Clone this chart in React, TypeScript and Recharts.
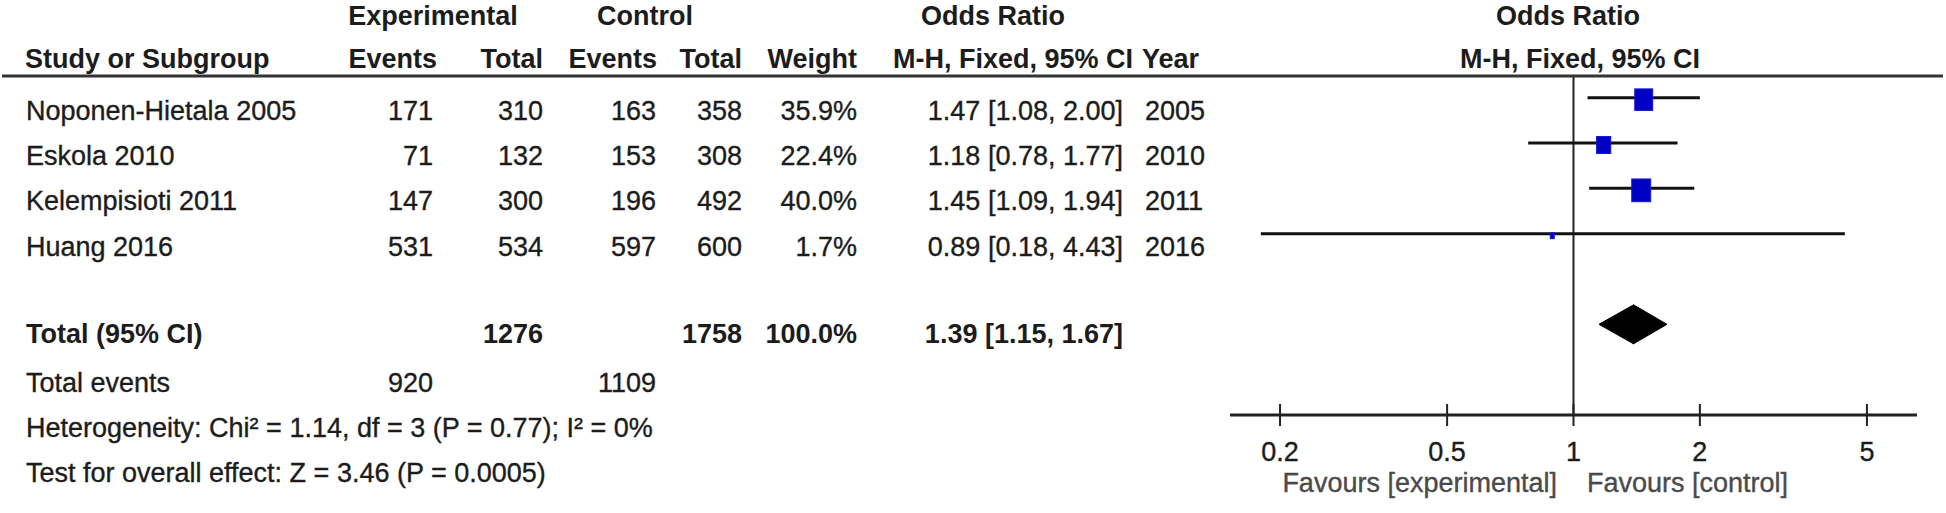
import React from "react";
import {
  ComposedChart,
  XAxis,
  YAxis,
  Scatter,
  ReferenceLine,
  ReferenceArea,
} from "recharts";

// ---- data ----
const studies = ["Noponen-Hietala 2005", "Eskola 2010", "Kelempisioti 2011", "Huang 2016"];
const expEvents = [171, 71, 147, 531];
const expTotal = [310, 132, 300, 534];
const ctrlEvents = [163, 153, 196, 597];
const ctrlTotal = [358, 308, 492, 600];
const weights = [35.9, 22.4, 40.0, 1.7];
const oddsRatio = [1.47, 1.18, 1.45, 0.89];
const ciLow = [1.08, 0.78, 1.09, 0.18];
const ciHigh = [2.0, 1.77, 1.94, 4.43];
const years = [2005, 2010, 2011, 2016];

const pooled = [1.39, 1.15, 1.67]; // OR, lower, upper
const pooledTotals = [1276, 1758];
const pooledEvents = [920, 1109];
const pooledWeight = 100.0;
const heterogeneity = "Heterogeneity: Chi\u00b2 = 1.14, df = 3 (P = 0.77); I\u00b2 = 0%";
const overallTest = "Test for overall effect: Z = 3.46 (P = 0.0005)";
const xTicks = [0.2, 0.5, 1, 2, 5];

const TOTAL_ROW = 5;

const rows = studies.map((name, i) => ({
  name,
  row: i,
  or: oddsRatio[i],
  lo: ciLow[i],
  hi: ciHigh[i],
  weight: weights[i],
}));

// ---- layout ----
const W = 1946;
const H = 513;
const FONT = "'Liberation Sans', Arial, sans-serif";
const INK = "#1c1c1c";
const COL = {
  name: 26,
  expEv: 433,
  expTot: 543,
  ctlEv: 656,
  ctlTot: 742,
  weight: 857,
  ci: 1123,
  year: 1145,
};
const rowBase = (i: number) => 119.8 + 45.33 * i;
const fmt = (v: number) => v.toFixed(2);
const ciText = (o: number, l: number, h: number) => `${fmt(o)} [${fmt(l)}, ${fmt(h)}]`;

function T({
  x,
  y,
  anchor = "start",
  bold = false,
  fill = INK,
  children,
}: {
  x: number;
  y: number;
  anchor?: "start" | "middle" | "end";
  bold?: boolean;
  fill?: string;
  children: React.ReactNode;
}) {
  return (
    <text
      x={x}
      y={y}
      textAnchor={anchor}
      fontFamily={FONT}
      fontSize={27}
      fontWeight={bold ? 700 : 400}
      fill={fill}
      stroke={bold ? "none" : fill}
      strokeWidth={0.35}
    >
      {children}
    </text>
  );
}

function WeightedSquare(props: any) {
  const { cx, cy, payload } = props;
  const s = Math.sqrt(payload.weight);
  const w = Math.max(4, 3 * s);
  const h = Math.max(6, 3.6 * s);
  return (
    <rect
      x={cx - w / 2}
      y={cy - h / 2 + 2}
      width={w}
      height={h}
      fill="#0000c4"
      stroke="#1a1ad0"
      strokeWidth={1}
    />
  );
}

function LeftHalf(props: any) {
  const { x, y, width, height } = props;
  return (
    <polygon
      points={`${x},${y + height / 2} ${x + width},${y} ${x + width},${y + height}`}
      fill="#000"
      stroke="#000"
      strokeWidth={1}
      strokeLinejoin="round"
    />
  );
}

function RightHalf(props: any) {
  const { x, y, width, height } = props;
  return (
    <polygon
      points={`${x},${y} ${x + width},${y + height / 2} ${x},${y + height}`}
      fill="#000"
      stroke="#000"
      strokeWidth={1}
      strokeLinejoin="round"
    />
  );
}

function AxisTick(props: any) {
  const { x, y, payload } = props;
  return (
    <g>
      <line x1={x} x2={x} y1={y - 11} y2={y + 11} stroke="#222" strokeWidth={2} />
      <text
        x={x}
        y={y + 46}
        textAnchor="middle"
        fontFamily={FONT}
        fontSize={27}
        fill={INK}
        stroke={INK}
        strokeWidth={0.35}
      >
        {String(payload.value)}
      </text>
    </g>
  );
}

function Table() {
  return (
    <svg
      width={W}
      height={H}
      style={{ position: "absolute", left: 0, top: 0, pointerEvents: "none" }}
    >
      {/* header */}
      <T x={433} y={25} anchor="middle" bold>Experimental</T>
      <T x={645} y={25} anchor="middle" bold>Control</T>
      <T x={993} y={25} anchor="middle" bold>Odds Ratio</T>
      <T x={1568} y={25} anchor="middle" bold>Odds Ratio</T>
      <T x={25} y={68} bold>Study or Subgroup</T>
      <T x={437} y={68} anchor="end" bold>Events</T>
      <T x={COL.expTot} y={68} anchor="end" bold>Total</T>
      <T x={657} y={68} anchor="end" bold>Events</T>
      <T x={COL.ctlTot} y={68} anchor="end" bold>Total</T>
      <T x={COL.weight} y={68} anchor="end" bold>Weight</T>
      <T x={893} y={68} bold>M-H, Fixed, 95% CI</T>
      <T x={1142} y={68} bold>Year</T>
      <T x={1580} y={68} anchor="middle" bold>M-H, Fixed, 95% CI</T>
      <line x1={2} x2={1943} y1={76} y2={76} stroke="#333" strokeWidth={3} />

      {/* study rows */}
      {studies.map((s, i) => (
        <g key={s}>
          <T x={COL.name} y={rowBase(i)}>{s}</T>
          <T x={COL.expEv} y={rowBase(i)} anchor="end">{expEvents[i]}</T>
          <T x={COL.expTot} y={rowBase(i)} anchor="end">{expTotal[i]}</T>
          <T x={COL.ctlEv} y={rowBase(i)} anchor="end">{ctrlEvents[i]}</T>
          <T x={COL.ctlTot} y={rowBase(i)} anchor="end">{ctrlTotal[i]}</T>
          <T x={COL.weight} y={rowBase(i)} anchor="end">{weights[i].toFixed(1)}%</T>
          <T x={COL.ci} y={rowBase(i)} anchor="end">{ciText(oddsRatio[i], ciLow[i], ciHigh[i])}</T>
          <T x={COL.year} y={rowBase(i)}>{years[i]}</T>
        </g>
      ))}

      {/* pooled */}
      <T x={COL.name} y={343} bold>Total (95% CI)</T>
      <T x={COL.expTot} y={343} anchor="end" bold>{pooledTotals[0]}</T>
      <T x={COL.ctlTot} y={343} anchor="end" bold>{pooledTotals[1]}</T>
      <T x={COL.weight} y={343} anchor="end" bold>{pooledWeight.toFixed(1)}%</T>
      <T x={COL.ci} y={343} anchor="end" bold>{ciText(pooled[0], pooled[1], pooled[2])}</T>
      <T x={COL.name} y={391.5}>Total events</T>
      <T x={COL.expEv} y={391.5} anchor="end">{pooledEvents[0]}</T>
      <T x={COL.ctlEv} y={391.5} anchor="end">{pooledEvents[1]}</T>
      <T x={COL.name} y={437}>{heterogeneity}</T>
      <T x={COL.name} y={482}>{overallTest}</T>

      {/* favours labels */}
      <T x={1557} y={492} anchor="end" fill="#4a4a4a">Favours [experimental]</T>
      <T x={1587} y={492} fill="#4a4a4a">Favours [control]</T>
    </svg>
  );
}

export default function App() {
  return (
    <div style={{ position: "absolute", left: 0, top: 0, width: W, height: H, background: "#fff" }}>
      <ComposedChart
        width={W}
        height={H}
        data={rows}
        margin={{ top: 7, right: 29, bottom: 0, left: 1230 }}
      >
        <XAxis
          type="number"
          dataKey="or"
          scale="log"
          domain={[0.152, 6.58]}
          allowDataOverflow
          ticks={xTicks}
          interval={0}
          height={98}
          tickSize={0}
          tickMargin={0}
          tickLine={false}
          axisLine={{ stroke: "#222", strokeWidth: 3 }}
          tick={<AxisTick />}
        />
        <YAxis type="number" dataKey="row" domain={[-2, 7]} reversed hide allowDataOverflow />
        <ReferenceLine
          segment={[
            { x: 1, y: -0.5 },
            { x: 1, y: 7 },
          ]}
          stroke="#222"
          strokeWidth={2}
        />
        {rows.map((r) => (
          <ReferenceLine
            key={r.name}
            segment={[
              { x: r.lo, y: r.row },
              { x: r.hi, y: r.row },
            ]}
            stroke="#111"
            strokeWidth={3}
          />
        ))}
        <Scatter data={rows} dataKey="row" shape={WeightedSquare} isAnimationActive={false} />
        <ReferenceArea
          x1={pooled[1]}
          x2={pooled[0]}
          y1={TOTAL_ROW - 0.43}
          y2={TOTAL_ROW + 0.43}
          shape={LeftHalf}
        />
        <ReferenceArea
          x1={pooled[0]}
          x2={pooled[2]}
          y1={TOTAL_ROW - 0.43}
          y2={TOTAL_ROW + 0.43}
          shape={RightHalf}
        />
      </ComposedChart>
      <Table />
    </div>
  );
}
